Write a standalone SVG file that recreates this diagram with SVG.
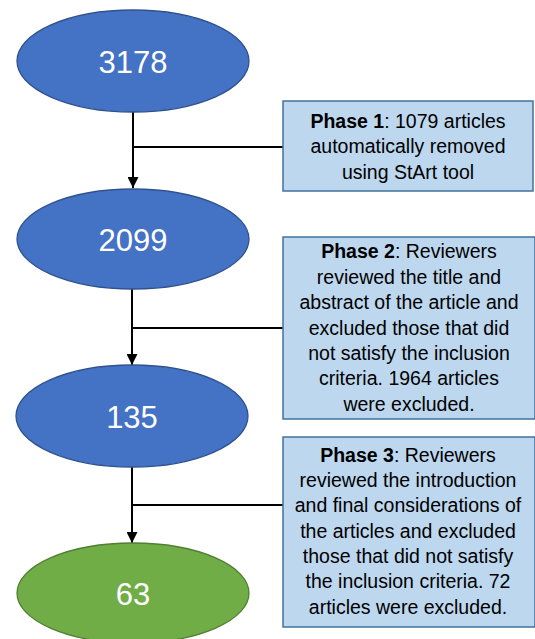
<svg xmlns="http://www.w3.org/2000/svg" width="535" height="639" viewBox="0 0 535 639">
<style>
.blue{fill:#4472C4;stroke:#2F528F;stroke-width:1.3}
.green{fill:#70AD47;stroke:#507E32;stroke-width:1.3}
.box{fill:#BDD7EE;stroke:#41719C;stroke-width:1.5}
.num{font-family:"Liberation Sans",Arial,sans-serif;font-size:31px;fill:#fff;text-anchor:middle}
.txt{font-family:"Liberation Sans",Arial,sans-serif;font-size:19.5px;fill:#000;text-anchor:middle}
.line{stroke:#000;stroke-width:2;fill:none}
</style>
<defs>
<marker id="arr" markerWidth="11" markerHeight="11" refX="11" refY="5.5" orient="auto" markerUnits="userSpaceOnUse">
<path d="M0,0 L11,5.5 L0,11 Z" fill="#000"/>
</marker>
</defs>
<g id="connectors">
<path class="line" d="M133,112 V188" marker-end="url(#arr)"/>
<path class="line" d="M133,147 H283"/>
<path class="line" d="M132,289 V365" marker-end="url(#arr)"/>
<path class="line" d="M132,328 H283"/>
<path class="line" d="M132,467 V543" marker-end="url(#arr)"/>
<path class="line" d="M132,505 H283"/>
</g>
<g id="n3178">
<ellipse class="blue" cx="133" cy="61" rx="116" ry="51"/>
<text class="num" x="133" y="73">3178</text>
</g>
<g id="n2099">
<ellipse class="blue" cx="133" cy="239" rx="116" ry="50"/>
<text class="num" x="133" y="251">2099</text>
</g>
<g id="n135">
<ellipse class="blue" cx="132" cy="416" rx="116" ry="51"/>
<text class="num" x="132" y="428">135</text>
</g>
<g id="n63">
<ellipse class="green" cx="133" cy="593" rx="116" ry="50"/>
<text class="num" x="133" y="605">63</text>
</g>
<g id="phase1">
<rect class="box" x="283" y="101" width="250" height="90"/>
<text class="txt" x="408" y="128"><tspan font-weight="bold">Phase 1</tspan>: 1079 articles</text>
<text class="txt" x="408" y="153">automatically removed</text>
<text class="txt" x="408" y="179">using StArt tool</text>
</g>
<g id="phase2">
<rect class="box" x="283" y="237" width="252" height="182"/>
<text class="txt" x="409" y="258"><tspan font-weight="bold">Phase 2</tspan>: Reviewers</text>
<text class="txt" x="409" y="284">reviewed the title and</text>
<text class="txt" x="409" y="309">abstract of the article and</text>
<text class="txt" x="409" y="335">excluded those that did</text>
<text class="txt" x="409" y="360">not satisfy the inclusion</text>
<text class="txt" x="409" y="385">criteria. 1964 articles</text>
<text class="txt" x="409" y="411">were excluded.</text>
</g>
<g id="phase3">
<rect class="box" x="283" y="437" width="252" height="190"/>
<text class="txt" x="408" y="462"><tspan font-weight="bold">Phase 3</tspan>: Reviewers</text>
<text class="txt" x="408" y="487">reviewed the introduction</text>
<text class="txt" x="408" y="512">and final considerations of</text>
<text class="txt" x="408" y="538">the articles and excluded</text>
<text class="txt" x="408" y="563">those that did not satisfy</text>
<text class="txt" x="408" y="588">the inclusion criteria. 72</text>
<text class="txt" x="408" y="614">articles were excluded.</text>
</g>
</svg>
